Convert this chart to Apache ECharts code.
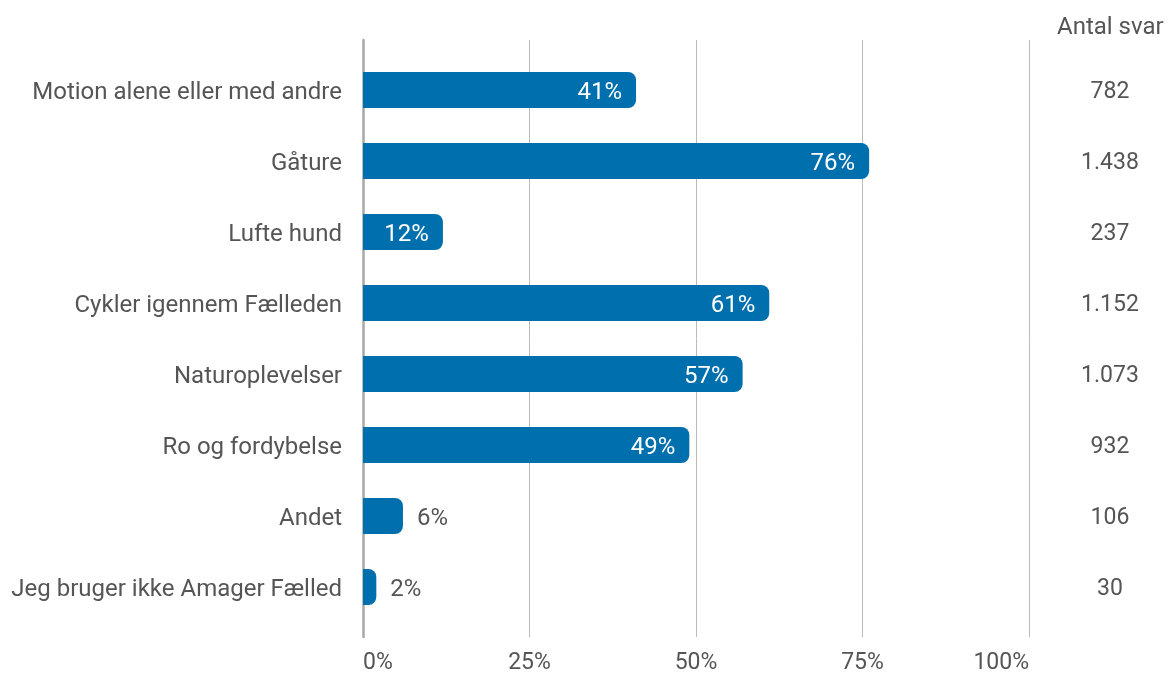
<!DOCTYPE html>
<html>
<head>
<meta charset="utf-8">
<script src="https://cdn.jsdelivr.net/npm/echarts@6/dist/echarts.min.js"></script>
<style>
  html, body { margin: 0; padding: 0; background: #fff; }
  #chart { width: 1168px; height: 675px; }
</style>
</head>
<body>
<div id="chart"></div>
<script>
const categories = [
  "Motion alene eller med andre",
  "Gåture",
  "Lufte hund",
  "Cykler igennem Fælleden",
  "Naturoplevelser",
  "Ro og fordybelse",
  "Andet",
  "Jeg bruger ikke Amager Fælled"
];
const percents = [41, 76, 12, 61, 57, 49, 6, 2];
const antalSvar = ["782", "1.438", "237", "1.152", "1.073", "932", "106", "30"];
const xTicks = [0, 25, 50, 75, 100];

const textColor = "#555";
const barColor = "#006fae";
const font = "Roboto";

const chart = echarts.init(document.getElementById("chart"));

// små søjler får label udenfor
const barData = percents.map((v) => {
  const inside = v >= 10;
  return {
    value: v,
    label: {
      position: inside ? "insideRight" : "right",
      color: inside ? "#fff" : textColor,
      distance: 14,
    },
  };
});

const option = {
  animation: false,
  textStyle: { fontFamily: font },
  title: {
    text: "Antal svar",
    left: 1057,
    top: 16,
    padding: 0,
    textStyle: { fontFamily: font, fontSize: 24, fontWeight: "normal", color: textColor },
  },
  grid: [
    { left: 363, right: 139, top: 40, bottom: 38 },
    { left: 363, right: 139, top: 54.5, bottom: 52.5 },
  ],
  xAxis: [
    {
      gridIndex: 0,
      type: "value",
      min: xTicks[0],
      max: xTicks[xTicks.length - 1],
      interval: 25,
      axisLine: { show: false },
      axisTick: { show: false },
      splitLine: { lineStyle: { color: "#bbb", width: 1 } },
      axisLabel: {
        formatter: "{value}%",
        color: textColor,
        fontSize: 23,
        fontFamily: font,
        margin: 15,
        alignMinLabel: "left",
        alignMaxLabel: "right",
      },
    },
    {
      gridIndex: 1,
      type: "value",
      min: 0,
      max: 100,
      show: false,
    },
  ],
  yAxis: [
    {
      gridIndex: 0,
      type: "value",
      axisLine: { show: true, lineStyle: { color: "#a8a8a8", width: 2.5 } },
      axisTick: { show: false },
      axisLabel: { show: false },
      splitLine: { show: false },
    },
    {
      gridIndex: 1,
      type: "category",
      inverse: true,
      data: categories,
      axisLine: { show: false },
      axisTick: { show: false },
      axisLabel: { color: textColor, fontSize: 24, fontFamily: font, margin: 21, verticalAlign: "top", lineHeight: 5 },
    },
    {
      gridIndex: 1,
      type: "category",
      inverse: true,
      position: "right",
      data: antalSvar,
      axisLine: { show: false },
      axisTick: { show: false },
      axisLabel: { color: textColor, fontSize: 23, fontFamily: font, margin: 81, align: "center", verticalAlign: "top", lineHeight: 5 },
    },
  ],
  series: [
    {
      type: "bar",
      xAxisIndex: 1,
      yAxisIndex: 1,
      data: barData,
      barWidth: 36,
      itemStyle: { color: barColor, borderRadius: [0, 8, 8, 0] },
      label: {
        show: true,
        formatter: "{c}%",
        fontSize: 24,
        fontFamily: font,
        verticalAlign: "top",
        lineHeight: 5,
      },
    },
  ],
};

chart.setOption(option);
</script>
</body>
</html>
